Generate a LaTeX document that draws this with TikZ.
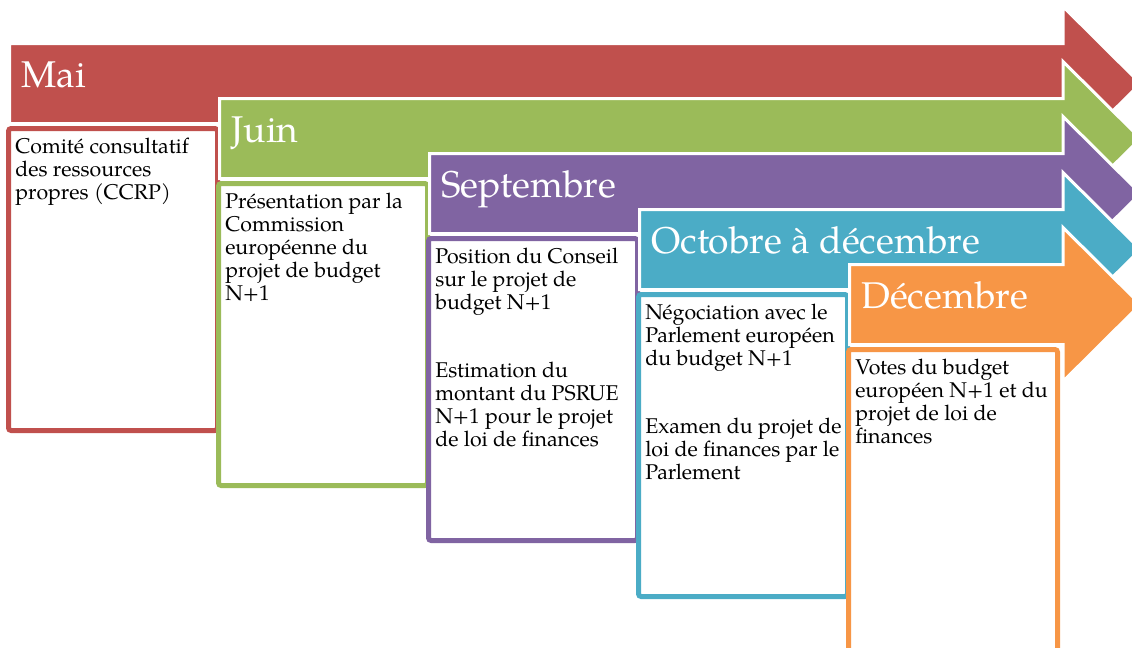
\documentclass[tikz,border=0pt]{standalone}
\usepackage{fontspec}
\setmainfont{TeX Gyre Pagella}
\definecolor{cred}{HTML}{C0504D}
\definecolor{cgreen}{HTML}{9BBB59}
\definecolor{cpurple}{HTML}{8064A2}
\definecolor{cteal}{HTML}{4BACC6}
\definecolor{corange}{HTML}{F79646}
\tikzset{
  arrowbody/.style={fill=#1, draw=white, line width=2.25pt, line join=miter},
  boxframe/.style={draw=#1, fill=white, line width=3.75pt, rounded corners=2pt},
  lab/.style={text=white, inner sep=0pt, font=\fontsize{27.9pt}{30pt}\selectfont},
  boxtext/.style={text=black, inner sep=0pt, font=\fontsize{16pt}{17.4pt}\selectfont},
}
% #1 name, #2 left, #3 top, #4 colour, #5 label, #6 box text
\newcommand\mystage[6]{%
  \path[arrowbody=#4] ({#2-1.5},{#3-1.5}) -- (1063,{#3-1.5}) -- (1063,{#3-38.5})
     -- (1140.5,{#3+38.5}) -- (1063,{#3+115.5}) -- (1063,{#3+78.5})
     -- ({#2-1.5},{#3+78.5}) -- cycle;
  \node[lab, anchor=base west] (#1l) at ({#2+10},{#3+42.5}) {#5};
  \path[boxframe=#4] ({#2-2.5},{#3+83.5}) rectangle ({#2+206.5},{#3+385.5});
  \node[boxtext, anchor=base west] (#1t) at ({#2+4},{#3+108})
     {\parbox[t]{156pt}{\raggedright #6}};
}
\begin{document}
\begin{tikzpicture}[x=0.75pt,y=-0.75pt]
\useasboundingbox (0,0) rectangle (1132,647);
\clip (0,0) rectangle (1132,647);
\mystage{mai}{11}{45}{cred}{Mai}{Comité consultatif\\des ressources\\propres (CCRP)}
\mystage{juin}{221}{100}{cgreen}{Juin}{Présentation par la\\Commission\\européenne du\\projet de budget\\N+1}
\mystage{sept}{431}{155}{cpurple}{Septembre}{Position du Conseil\\sur le projet de\\budget N+1\\[33.5pt]Estimation du\\montant du PSRUE\\N+1 pour le projet\\de loi de finances}
\mystage{oct}{641}{211}{cteal}{Octobre à décembre}{Négociation avec le\\Parlement européen\\du budget N+1\\[33.5pt]Examen du projet de\\loi de finances par le\\Parlement}
\mystage{dec}{851}{266}{corange}{Décembre}{Votes du budget\\européen N+1 et du\\projet de loi de\\finances}
\end{tikzpicture}
\end{document}
